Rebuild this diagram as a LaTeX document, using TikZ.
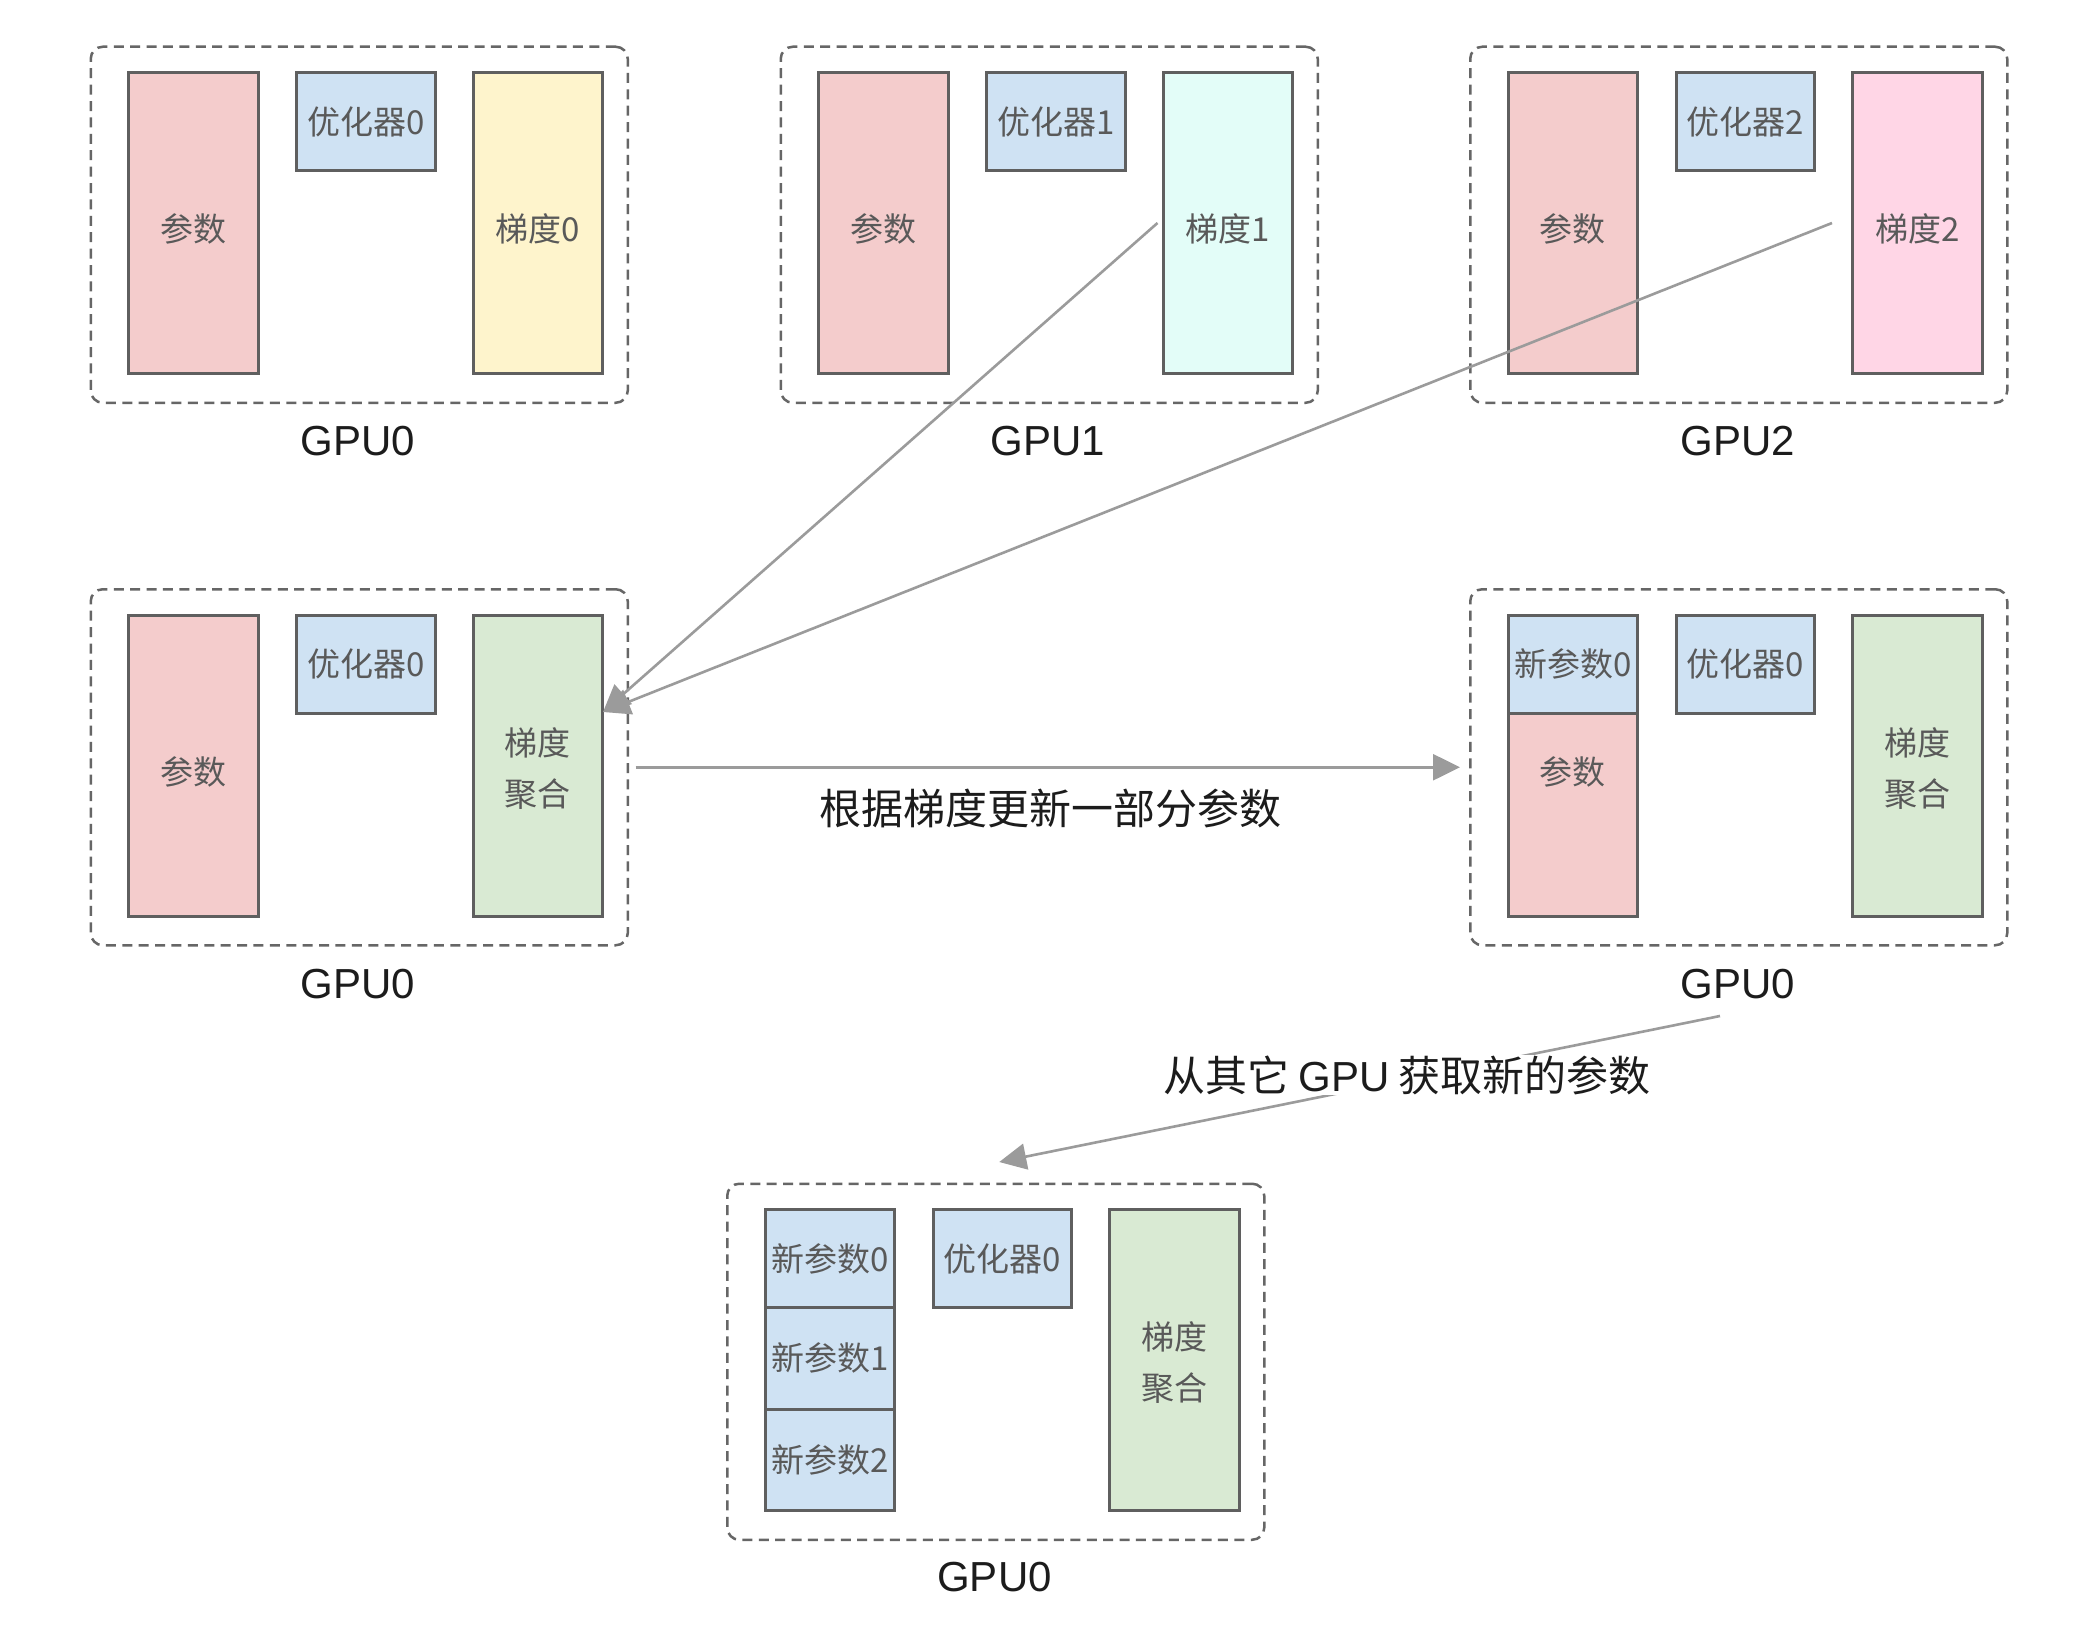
\documentclass[tikz,border=0pt]{standalone}
\usepackage{fontspec}
\setmainfont{Liberation Sans}
\newfontfamily\cjk{Noto Sans CJK SC}
\usetikzlibrary{arrows.meta}
\definecolor{cellborder}{HTML}{5F5F5F}
\definecolor{dashgray}{HTML}{666666}
\definecolor{arrowgray}{HTML}{9B9B9B}
\definecolor{celltext}{HTML}{595959}
\definecolor{labelblack}{HTML}{1C1C1C}
\definecolor{paramred}{HTML}{F4CCCC}
\definecolor{optblue}{HTML}{CFE2F3}
\definecolor{gradyellow}{HTML}{FEF4CC}
\definecolor{gradcyan}{HTML}{E3FDF8}
\definecolor{gradpink}{HTML}{FFD6E6}
\definecolor{agggreen}{HTML}{D9EAD3}
\begin{document}
\begin{tikzpicture}[x=0.5pt,y=-0.5pt,
  gpubox/.style={draw=dashgray, line width=1.25pt, dash pattern=on 5pt off 3.2pt,
    rounded corners=6pt, minimum width=268.5pt, minimum height=178pt, inner sep=0pt,
    anchor=north west},
  cellfont/.style={font=\cjk\fontsize{16.5}{25.5}\selectfont, text=celltext, align=center},
  cell/.style={draw=cellborder, line width=1.5pt, inner sep=0pt, anchor=north west, cellfont},
  tallcell/.style={cell, minimum width=64.75pt, minimum height=150.5pt},
  tallone/.style={cellfont, yshift=-3pt},
  talltwo/.style={cellfont, yshift=-1.5pt},
  shortcell/.style={cell, minimum width=69.25pt, minimum height=49pt},
  newcell/.style={cell, minimum width=64.75pt, minimum height=49pt},
  segcell/.style={cell, minimum width=64.75pt, minimum height=50.75pt},
  gpulabel/.style={font=\fontsize{21}{25}\selectfont, text=labelblack},
  edgelabel/.style={font=\cjk\fontsize{21}{25}\selectfont, text=labelblack},
  conn/.style={draw=arrowgray, line width=1.3pt, -{Triangle[length=13.5pt,width=13pt]}}
]
\fill[white] (0,0) rectangle (2100,1632);
\useasboundingbox (0,0) rectangle (2100,1632);

% ---- Row 1 ----
\node[gpubox] (boxA) at (89.5,45.5) {};
\node[tallcell, fill=paramred, label={[tallone]center:参数}] (pA) at (127,71) {};
\node[shortcell, fill=optblue] (oA) at (295,71) {优化器0};
\node[tallcell, fill=gradyellow, label={[tallone]center:梯度0}] (g0) at (471.5,71) {};
\node[gpulabel] (lblA) at (358,441.5) {GPU0};

\node[gpubox] (boxB) at (779.5,45.5) {};
\node[tallcell, fill=paramred, label={[tallone]center:参数}] (pB) at (817,71) {};
\node[shortcell, fill=optblue] (oB) at (985,71) {优化器1};
\node[tallcell, fill=gradcyan, label={[tallone]center:梯度1}] (g1) at (1161.5,71) {};
\node[gpulabel] (lblB) at (1048,441.5) {GPU1};

\node[gpubox] (boxC) at (1469,45.5) {};
\node[tallcell, fill=paramred, label={[tallone]center:参数}] (pC) at (1506.5,71) {};
\node[shortcell, fill=optblue] (oC) at (1674.5,71) {优化器2};
\node[tallcell, fill=gradpink, label={[tallone]center:梯度2}] (g2) at (1851,71) {};
\node[gpulabel] (lblC) at (1737.5,441.5) {GPU2};

% ---- Row 2 ----
\node[gpubox] (boxD) at (89.5,588) {};
\node[tallcell, fill=paramred, label={[tallone]center:参数}] (pD) at (127,613.5) {};
\node[shortcell, fill=optblue] (oD) at (295,613.5) {优化器0};
\node[tallcell, fill=agggreen, label={[talltwo]center:梯度\\聚合}] (aggD) at (471.5,613.5) {};
\node[gpulabel] (lblD) at (358,984) {GPU0};

\node[gpubox] (boxE) at (1469,588) {};
\node[tallcell, fill=paramred, label={[tallone]center:参数}] (pE) at (1506.5,613.5) {};
\node[newcell, fill=optblue] (nE) at (1506.5,613.5) {新参数0};
\node[shortcell, fill=optblue] (oE) at (1674.5,613.5) {优化器0};
\node[tallcell, fill=agggreen, label={[talltwo]center:梯度\\聚合}] (aggE) at (1851,613.5) {};
\node[gpulabel] (lblE) at (1737.5,984) {GPU0};

% ---- Row 3 ----
\node[gpubox] (boxF) at (726,1182.5) {};
\node[newcell, fill=optblue] (nF0) at (763.5,1208) {新参数0};
\node[segcell, fill=optblue] (nF1) at (763.5,1306) {新参数1};
\node[segcell, fill=optblue] (nF2) at (763.5,1407.5) {新参数2};
\node[shortcell, fill=optblue] (oF) at (931.5,1208) {优化器0};
\node[tallcell, fill=agggreen, label={[talltwo]center:梯度\\聚合}] (aggF) at (1108,1208) {};
\node[gpulabel] (lblF) at (994.5,1577.5) {GPU0};

% ---- connectors ----
\coordinate (tipD) at (603,712);
\draw[conn] ([xshift=-2pt]g1.west) -- (tipD);
\draw[conn] ([xshift=-9.5pt]g2.west) -- (tipD);

\draw[conn] ([xshift=3.25pt]boxD.east) -- ([xshift=-4.5pt]boxE.west);
\node[edgelabel] (lab1) at (1050,808) {根据梯度更新一部分参数};

\coordinate (startE) at ([shift={(-17.5,32)}]lblE.center);
\coordinate (tipF) at ([shift={(3.5,-20.5)}]boxF.north);
\draw[conn] (startE) -- (tipF);
\node[edgelabel, fill=white, inner sep=0pt] (lab2) at (1407,1075) {从其它 {\rmfamily GPU} 获取新的参数};
\end{tikzpicture}
\end{document}
